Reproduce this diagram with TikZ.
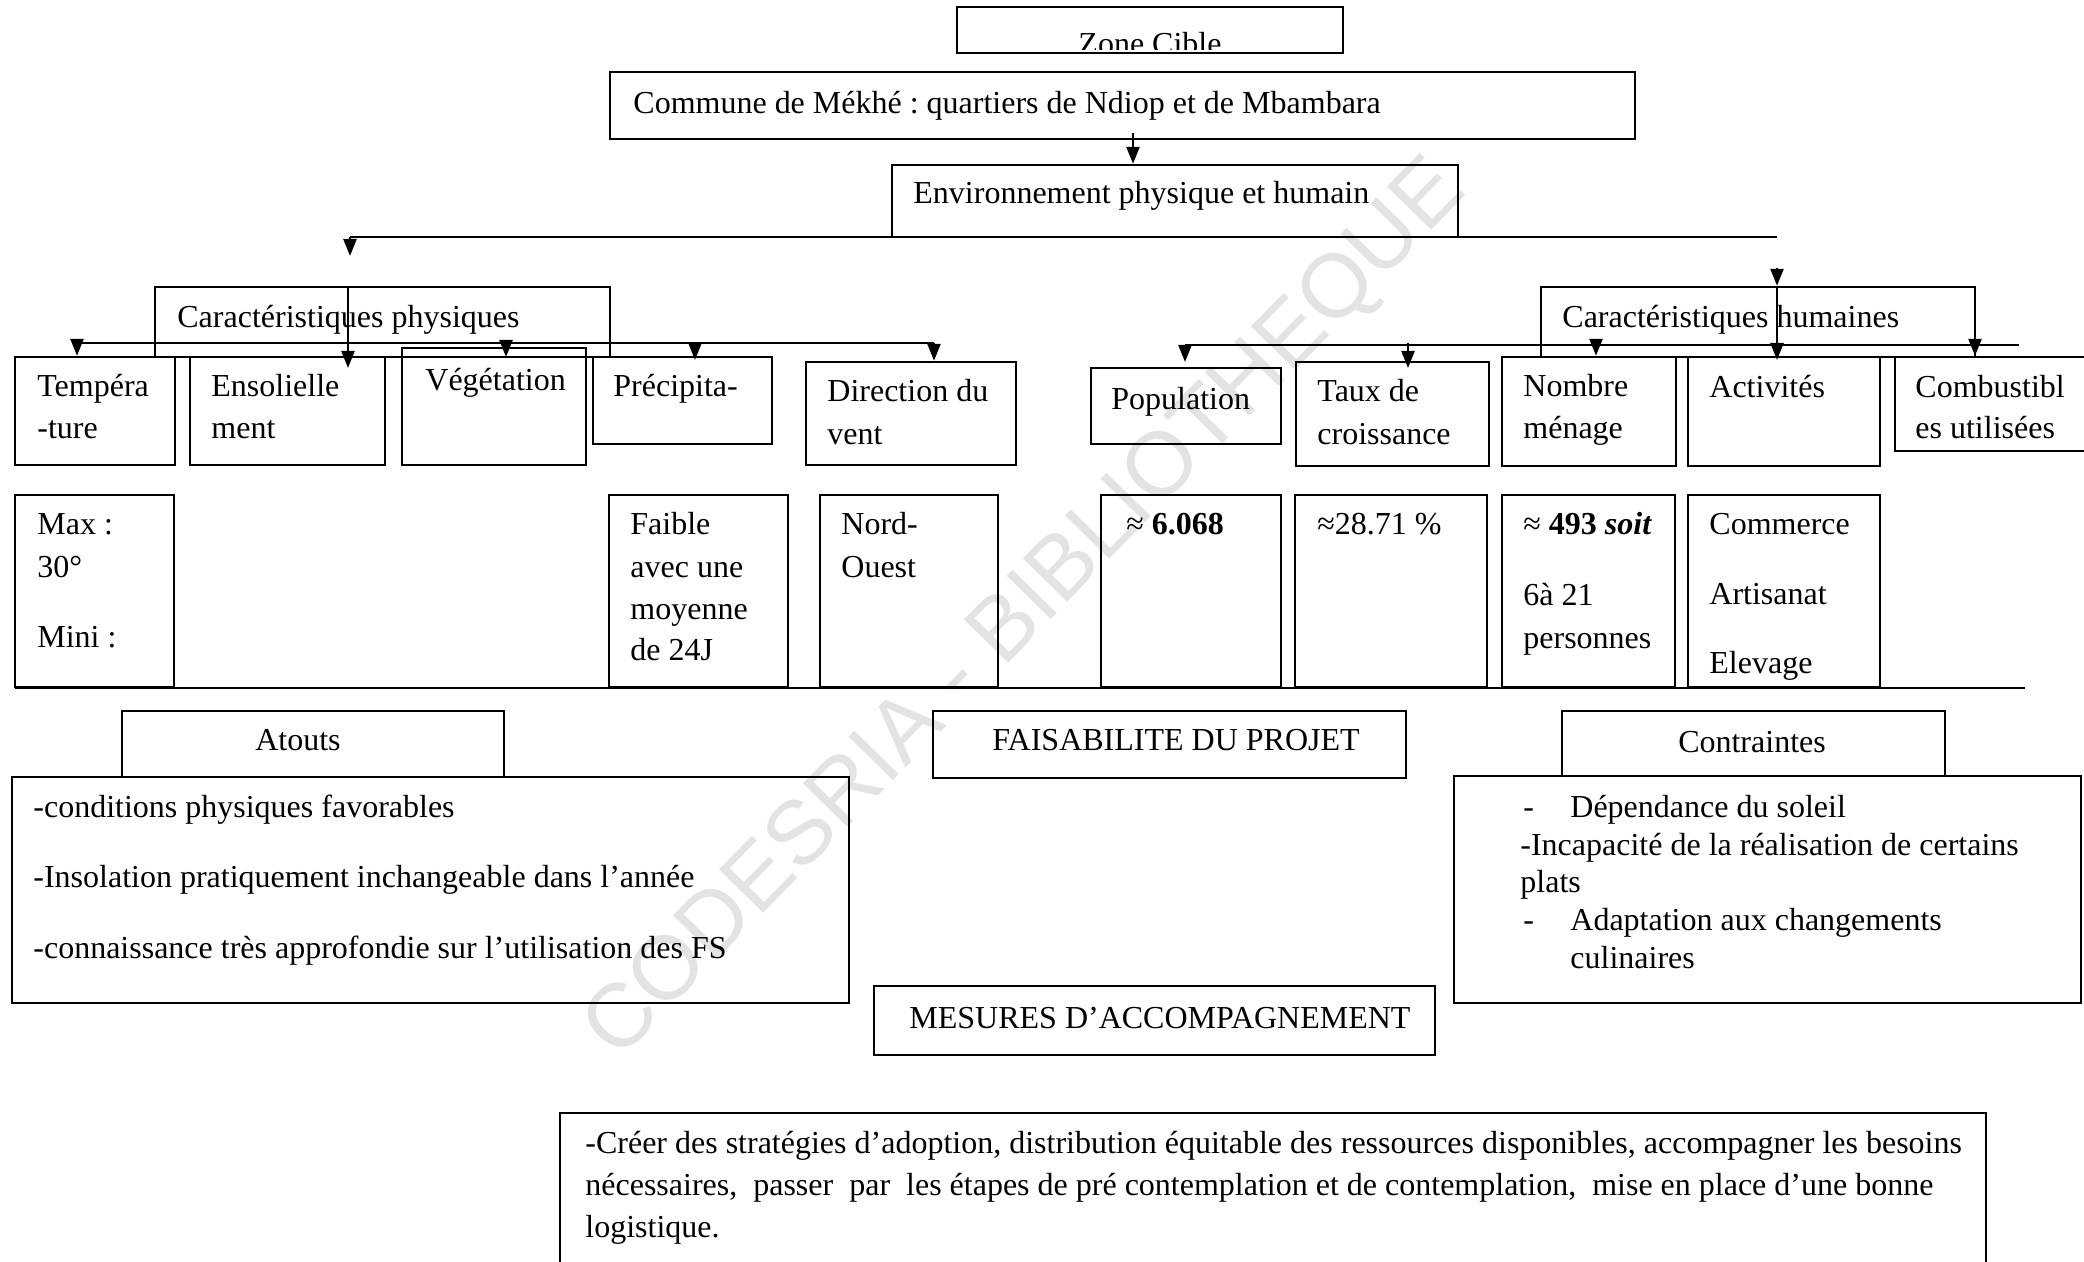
\documentclass[tikz,border=0pt]{standalone}
\usepackage{fontspec}
\setmainfont{Liberation Serif}
\newfontfamily\wmfont{Liberation Sans}
\usetikzlibrary{arrows.meta,fit}
\newcommand\mkbox[5]{\node[bx, fit={(#2,#3) (#4,#5)}] (#1) {};}
\frenchspacing
\begin{document}
\begin{tikzpicture}[x=0.5pt,y=-0.5pt,
  bx/.style={draw, line width=1.2pt, inner sep=0pt},
  txt/.style={inner sep=0pt, anchor=base west, font=\fontsize{16}{19}\selectfont},
  ctxt/.style={inner sep=0pt, anchor=base, font=\fontsize{16}{19}\selectfont},
  ln/.style={line width=1.2pt},
  arr/.style={line width=1.2pt, -{Triangle[length=8.5pt,width=6.5pt]}},
  wmst/.style={inner sep=0pt, rotate=45.6, text=black!11, font=\wmfont\fontsize{45}{45}\selectfont}]
\clip (0,0) rectangle (2084,1262);
\fill[white] (0,0) rectangle (2084,1262);
\node[wmst] (wm) at (1027,611) {CODESRIA - BIBLIOTHEQUE};

% boxes
\mkbox{ZC}{957}{7}{1343}{53}
\mkbox{Com}{610}{72}{1635}{139}
\mkbox{Env}{892}{165}{1458}{237}
\mkbox{CarP}{155}{287}{610}{357}
\mkbox{CarH}{1541}{287}{1975}{357}
\mkbox{Temp}{15}{357}{175}{465}
\mkbox{Ensol}{190}{357}{385}{465}
\mkbox{Veg}{402}{348}{586}{465}
\mkbox{Prec}{593}{357}{772}{444}
\mkbox{Dir}{806}{362}{1016}{465}
\mkbox{Pop}{1091}{368}{1281}{444}
\mkbox{Taux}{1296}{362}{1489}{466}
\mkbox{Nomb}{1502}{357}{1676}{466}
\mkbox{Activ}{1688}{357}{1880}{466}
\mkbox{Comb}{1895}{357}{2095}{451}
\mkbox{MaxV}{15}{495}{174}{687}
\mkbox{PrecV}{609}{495}{788}{687}
\mkbox{DirV}{820}{495}{998}{687}
\mkbox{PopV}{1101}{495}{1281}{687}
\mkbox{TauxV}{1295}{495}{1487}{687}
\mkbox{NombV}{1502}{495}{1675}{687}
\mkbox{ActivV}{1688}{495}{1880}{687}
\mkbox{At}{122}{711}{504}{777}
\mkbox{AtC}{12}{777}{849}{1003}
\mkbox{Fais}{933}{711}{1406}{778}
\mkbox{Ctr}{1562}{711}{1945}{776}
\mkbox{CtrC}{1454}{776}{2081}{1003}
\mkbox{Mes}{874}{986}{1435}{1055}
\mkbox{MesC}{560}{1113}{1986}{1275}

% texts
\begin{scope}
\clip (957,7) rectangle (1343,50);
\node[ctxt] (tZC) at (1150,55) {Zone Cible};
\end{scope}
\node[txt] (tCom) at (633,114) {Commune de Mékhé : quartiers de Ndiop et de Mbambara};
\node[txt] (tEnv) at (913,204) {Environnement physique et humain};
\node[txt] (tCarP) at (177,328) {Caractéristiques physiques};
\node[txt] (tCarH) at (1562,328) {Caractéristiques humaines};
\node[txt] (tTa) at (37,397) {Tempéra};
\node[txt] (tTb) at (37,439) {-ture};
\node[txt] (tEa) at (211,397) {Ensolielle};
\node[txt] (tEb) at (211,439) {ment};
\node[txt] (tV) at (425,391) {Végétation};
\node[txt] (tP) at (613,397) {Précipita-};
\node[txt] (tDa) at (827,402) {Direction du};
\node[txt] (tDb) at (827,445) {vent};
\node[txt] (tPop) at (1111,410) {Population};
\node[txt] (tXa) at (1317,402) {Taux de};
\node[txt] (tXb) at (1317,445) {croissance};
\node[txt] (tNa) at (1523,397) {Nombre};
\node[txt] (tNb) at (1523,439) {ménage};
\node[txt] (tAc) at (1709,398) {Activités};
\node[txt] (tCa) at (1915,398) {Combustibl};
\node[txt] (tCb) at (1915,439) {es utilisées};
\node[txt] (vMa) at (37,535) {Max :};
\node[txt] (vMb) at (37,577) {30°};
\node[txt] (vMc) at (37,647) {Mini :};
\node[txt] (vPa) at (630,535) {Faible};
\node[txt] (vPb) at (630,577) {avec une};
\node[txt] (vPc) at (630,619) {moyenne};
\node[txt] (vPd) at (630,661) {de 24J};
\node[txt] (vDa) at (841,535) {Nord-};
\node[txt] (vDb) at (841,577) {Ouest};
\node[txt] (vPop) at (1126,535) {≈ \textbf{6.068}};
\node[txt] (vTx) at (1317,535) {≈28.71 \%};
\node[txt] (vNa) at (1523,535) {≈ \textbf{493 \textit{soit}}};
\node[txt] (vNb) at (1523,605) {6à 21};
\node[txt] (vNc) at (1523,648) {personnes};
\node[txt] (vAa) at (1709,535) {Commerce};
\node[txt] (vAb) at (1709,604) {Artisanat};
\node[txt] (vAc) at (1709,673) {Elevage};
\node[ctxt] (tAt) at (298,750) {Atouts};
\node[txt] (aA) at (33,817) {-conditions physiques favorables};
\node[txt] (aB) at (33,887) {-Insolation pratiquement inchangeable dans l’année};
\node[txt] (aC) at (33,958) {-connaissance très approfondie sur l’utilisation des FS};
\node[ctxt] (tFa) at (1176,750) {FAISABILITE DU PROJET};
\node[ctxt] (tCt) at (1752,752) {Contraintes};
\node[txt] (cAd) at (1523,817) {-};
\node[txt] (cA) at (1570,817) {Dépendance du soleil};
\node[txt] (cB) at (1520,855) {-Incapacité de la réalisation de certains};
\node[txt] (cC) at (1520,892) {plats};
\node[txt] (cDd) at (1523,930) {-};
\node[txt] (cD) at (1570,930) {Adaptation aux changements};
\node[txt] (cE) at (1570,968) {culinaires};
\node[ctxt] (tMe) at (1160,1028) {MESURES D’ACCOMPAGNEMENT};
\node[txt] (mA) at (585,1153) {-Créer des stratégies d’adoption, distribution équitable des ressources disponibles, accompagner les besoins};
\node[txt] (mB) at (585,1195) {nécessaires,\ \ passer\ \ par\ \ les étapes de pré contemplation et de contemplation,\ \ mise en place d’une bonne};
\node[txt] (mC) at (585,1237) {logistique.};

% connectors
\coordinate (a1) at (1133,133);
\draw[arr] (a1) -- (a1 |- Env.north);
\coordinate (hl) at (350,237);
\coordinate (hr) at (1777,237);
\coordinate (hlE) at (350,256);
\draw[ln] (hl) -- (hr);
\draw[arr] (hl) -- (hlE);
\coordinate (hrA) at (1777,268);
\draw[arr] (hrA) -- (hrA |- CarH.north);
% physiques
\coordinate (vp) at (348,287);
\coordinate (vpE) at (348,368);
\draw[arr] (vp) -- (vpE);
\coordinate (dp1) at (77,343);
\coordinate (dp2) at (934,343);
\draw[ln] (dp1) -- (dp2);
\draw[arr] (dp1) -- (dp1 |- Temp.north);
\coordinate (dpV) at (506,343);
\coordinate (dpVE) at (506,357);
\draw[arr] (dpV) -- (dpVE);
\coordinate (dpP) at (695,343);
\coordinate (dpPE) at (695,360);
\draw[arr] (dpP) -- (dpPE);
\draw[arr] (dp2) -- (dp2 |- Dir.north);
% humaines
\coordinate (vh) at (1777,287);
\coordinate (vhE) at (1777,360);
\draw[arr] (vh) -- (vhE);
\coordinate (dh1) at (1185,345);
\coordinate (dh2) at (2019,345);
\draw[ln] (dh1) -- (dh2);
\coordinate (dh1E) at (1185,362);
\draw[arr] (dh1) -- (dh1E);
\coordinate (dhT) at (1408,343);
\coordinate (dhTE) at (1408,368);
\draw[arr] (dhT) -- (dhTE);
\coordinate (dhN) at (1596,345);
\draw[arr] (dhN) -- (dhN |- Nomb.north);
\coordinate (dhC) at (1975,345);
\draw[arr] (dhC) -- (dhC |- Comb.north);
% bottom line
\coordinate (bl1) at (15,688);
\coordinate (bl2) at (2025,688);
\draw[ln] (bl1) -- (bl2);
\end{tikzpicture}
\end{document}
